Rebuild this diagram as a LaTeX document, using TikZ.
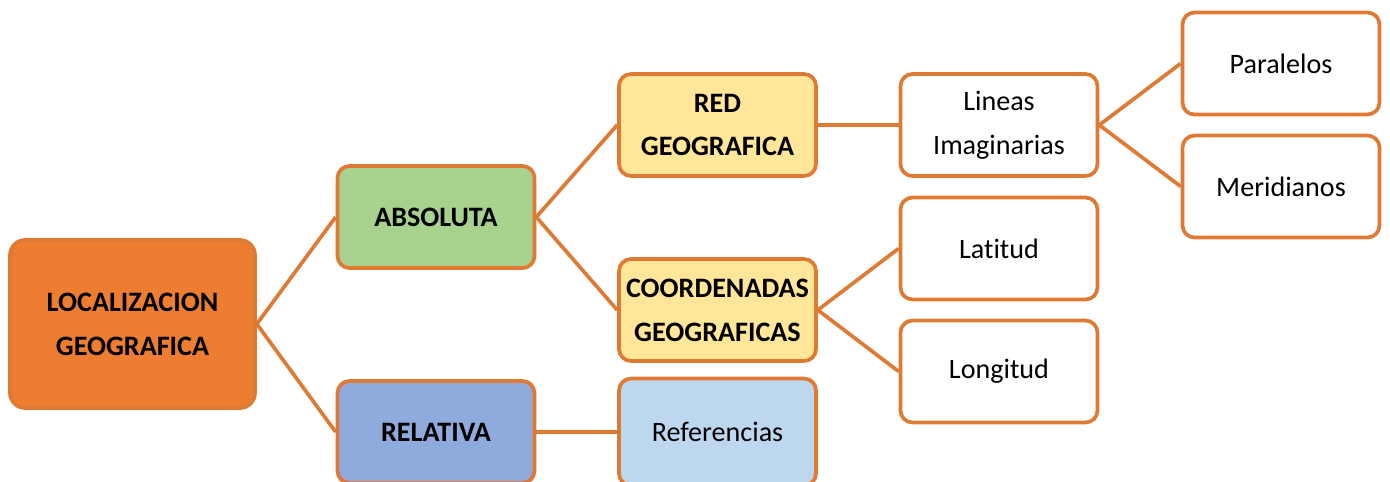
\documentclass[tikz,border=0pt]{standalone}
\usepackage{fontspec}
\setmainfont{Carlito}[Ligatures=CommonOff]

\definecolor{edgeorange}{RGB}{222,122,52}
\definecolor{mainorange}{RGB}{237,125,49}
\definecolor{absgreen}{RGB}{169,209,142}
\definecolor{relblue}{RGB}{143,170,220}
\definecolor{redyellow}{RGB}{255,230,153}
\definecolor{refblue}{RGB}{189,215,238}

\begin{document}
\begin{tikzpicture}[x=0.02cm, y=-0.02cm,
    box/.style={draw=edgeorange, line width=2.1pt, rounded corners=0.24cm,
      minimum width=3.94cm, minimum height=2.04cm, align=center,
      fill=white, font=\fontsize{16}{25}\selectfont},
    boldbox/.style={box, font=\fontsize{16}{25}\selectfont\bfseries},
    link/.style={draw=edgeorange, line width=2.1pt}]
  \useasboundingbox (0,0) rectangle (1390,481);

  % first level
  \node[boldbox, fill=mainorange, minimum width=4.9cm, minimum height=3.36cm,
    rounded corners=0.3cm] (loc) at (132.5,324) {LOCALIZACION\\GEOGRAFICA};

  % second level
  \node[boldbox, fill=absgreen] (abs) at (436,217) {ABSOLUTA};
  \node[boldbox, fill=relblue] (rel) at (436,432) {RELATIVA};

  % third level
  \node[boldbox, fill=redyellow] (red) at (717.5,125) {RED\\GEOGRAFICA};
  \node[boldbox, fill=redyellow] (coord) at (717.5,310) {COORDENADAS\\GEOGRAFICAS};
  \node[box, fill=refblue, minimum height=2.14cm] (ref) at (717.5,432) {Referencias};

  % fourth level
  \node[box] (lin) at (999,125) {Lineas\\Imaginarias};
  \node[box] (lat) at (999,248.5) {Latitud};
  \node[box] (lon) at (999,371.5) {Longitud};

  % fifth level
  \node[box] (par) at (1281,63.5) {Paralelos};
  \node[box] (mer) at (1281,186.5) {Meridianos};

  \draw[link] (loc.east) -- (abs.west);
  \draw[link] (loc.east) -- (rel.west);
  \draw[link] (abs.east) -- (red.west);
  \draw[link] (abs.east) -- (coord.west);
  \draw[link] (rel.east) -- (ref.west);
  \draw[link] (red.east) -- (lin.west);
  \draw[link] (coord.east) -- (lat.west);
  \draw[link] (coord.east) -- (lon.west);
  \draw[link] (lin.east) -- (par.west);
  \draw[link] (lin.east) -- (mer.west);
\end{tikzpicture}
\end{document}
